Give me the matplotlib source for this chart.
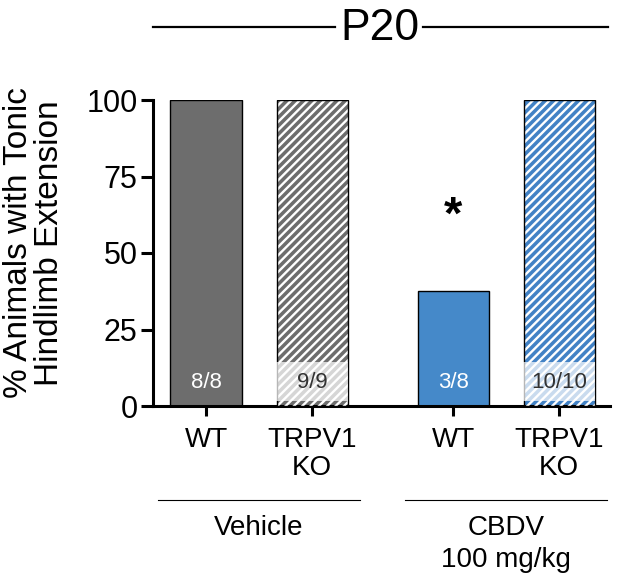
import matplotlib.pyplot as plt
from matplotlib.lines import Line2D
import matplotlib.transforms as mtransforms

plt.rcParams['font.family'] = ['Liberation Sans', 'DejaVu Sans']
plt.rcParams['hatch.linewidth'] = 1.7

# data
groups = ["Vehicle", "CBDV\n100 mg/kg"]
genotypes = ["WT", "TRPV1\nKO", "WT", "TRPV1\nKO"]
pct_the = [100, 100, 37.5, 100]
counts = ["8/8", "9/9", "3/8", "10/10"]
hatched = [False, True, False, True]
colors = ["#6d6d6d", "#6d6d6d", "#4589c9", "#4282c5"]
xpos = [0, 1, 2.33, 3.33]

fig = plt.figure(figsize=(6.18, 5.76), dpi=100)
ax = fig.add_axes([153 / 618, 1 - 406 / 576, (610 - 153) / 618, 306 / 576])

w = 0.67
for x, v, c, h, lab in zip(xpos, pct_the, colors, hatched, counts):
    ax.bar(x, v, width=w, color=c, edgecolor="none", zorder=2)
    if h:
        ax.bar(x, v, width=w, facecolor="none", edgecolor="white", linewidth=0, hatch="////", zorder=3)
    ax.bar(x, v, width=w, fill=False, edgecolor="black", linewidth=1.0, zorder=4)
    if h:
        ax.bar(x, 13.0, bottom=1.5, width=w + 0.01, color="white", alpha=0.72, edgecolor="none", zorder=5)
        ax.text(x, 5.9, lab, ha="center", va="baseline", fontsize=16, color="#333333", zorder=6)
    else:
        ax.text(x, 5.9, lab, ha="center", va="baseline", fontsize=16, color="white", zorder=6)

# significance
ax.text(xpos[2], 58, "*", ha="center", va="baseline", fontsize=34, fontweight="bold")

ax.set_xlim(-0.5, 3.81)
ax.set_ylim(0, 100)
ax.set_yticks([0, 25, 50, 75, 100])
ax.set_xticks(xpos)
ax.set_xticklabels(genotypes, fontsize=20, linespacing=1.1)
ax.tick_params(axis="y", labelsize=22, length=9, width=2.2, pad=2)
ax.tick_params(axis="x", length=7, width=2.2, pad=8)
for s in ["top", "right"]:
    ax.spines[s].set_visible(False)
for s in ["left", "bottom"]:
    ax.spines[s].set_linewidth(2.2)

fig.text(34 / 618, 1 - 243 / 576, "% Animals with Tonic\nHindlimb Extension", rotation=90,
         ha="center", va="center", fontsize=24, linespacing=1.0)

# group labels below axis
trans = mtransforms.blended_transform_factory(ax.transData, ax.transAxes)
for (x0, x1), g in zip([(-0.45, 1.45), (1.88, 3.78)], groups):
    ax.add_line(Line2D([x0, x1], [-0.307, -0.307], transform=trans, color="black", lw=0.8, clip_on=False))
    ax.text((x0 + x1) / 2, -0.355, g, transform=trans, ha="center", va="top", fontsize=20, linespacing=1.3)

# title with lines
fig.text(380 / 618, 1 - 40 / 576, "P20", ha="center", va="baseline", fontsize=32)
for xa, xb in [(153, 335), (423, 608)]:
    fig.add_artist(Line2D([xa / 618, xb / 618], [1 - 27 / 576, 1 - 27 / 576], color="black", lw=1.6))

fig.savefig("out.png", dpi=100)
